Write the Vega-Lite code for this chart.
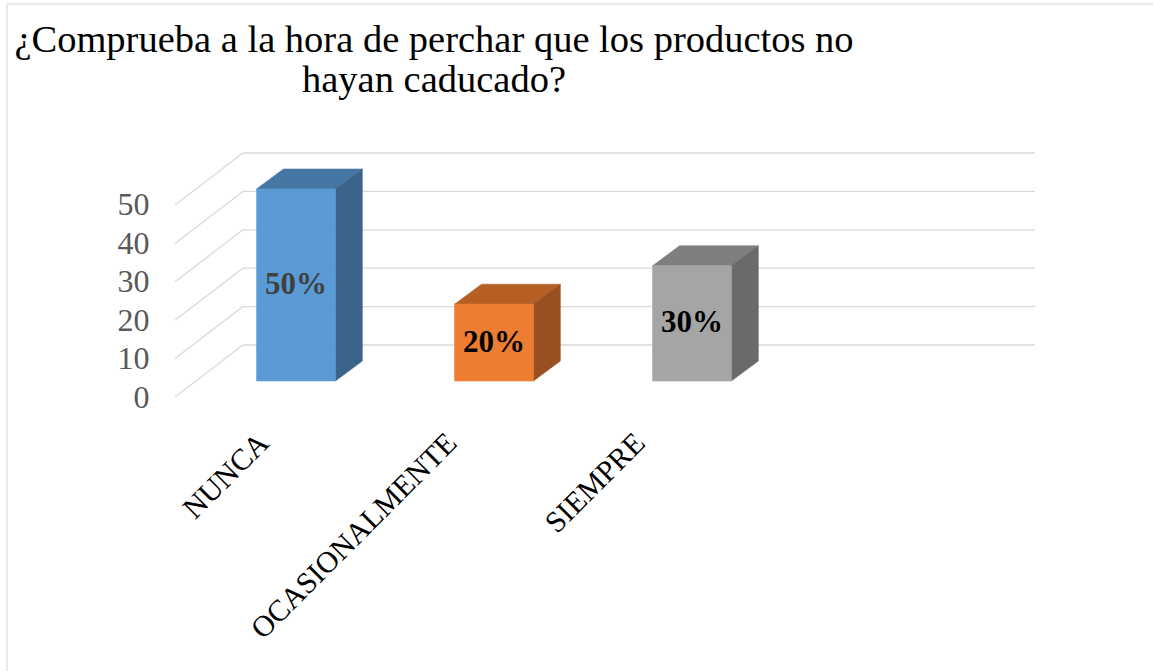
{
  "$schema": "https://vega.github.io/schema/vega-lite/v6.json",
  "width": 1146,
  "height": 667,
  "autosize": {"type": "none"},
  "padding": {"left": 7, "top": 4, "right": 0, "bottom": 0},
  "background": "white",
  "config": {
    "view": {"stroke": null},
    "font": "Liberation Serif",
    "title": {"font": "Liberation Serif, Times New Roman, serif", "fontWeight": "normal", "color": "#000000"},
    "style": {"group-title": {"font": "Liberation Serif, Times New Roman, serif"}}
  },
  "title": {
    "text": ["¿Comprueba a la hora de perchar que los productos no", "hayan caducado?"],
    "font": "Liberation Serif, Times New Roman, serif",
    "fontSize": 38.5,
    "fontWeight": "normal",
    "color": "#000000",
    "anchor": "middle",
    "frame": "group",
    "dx": -146,
    "offset": -97,
    "lineHeight": 40
  },
  "datasets": {
    "respuestas": [
      {"categoria": "NUNCA", "valor": 50},
      {"categoria": "OCASIONALMENTE", "valor": 20},
      {"categoria": "SIEMPRE", "valor": 30}
    ],
    "marcas": [{"v": 0}, {"v": 10}, {"v": 20}, {"v": 30}, {"v": 40}, {"v": 50}]
  },
  "layer": [
    {
      "data": {"name": "marcas"},
      "transform": [{"calculate": "datum.v + 13.54", "as": "vb"}],
      "mark": {"type": "rule", "color": "#d9d9d9", "strokeWidth": 1.3},
      "encoding": {
        "x": {"datum": 0, "type": "quantitative", "scale": {"domain": [-0.8485, 4.9394], "nice": false, "zero": false}, "axis": null},
        "x2": {"datum": 0.343},
        "y": {"field": "v", "type": "quantitative", "title": null,
              "scale": {"domain": [-71.35, 102.34], "nice": false, "zero": false},
              "axis": {"values": [0, 10, 20, 30, 40, 50], "domain": false, "ticks": false, "grid": false,
                       "offset": -168, "labelPadding": 26, "labelFont": "Liberation Serif", "labelFontSize": 32,
                       "labelColor": "#595959", "labelOverlap": false, "labelFlush": false}},
        "y2": {"field": "vb"}
      }
    },
    {
      "data": {"name": "marcas"},
      "transform": [{"calculate": "datum.v + 13.54", "as": "vb"}],
      "mark": {"type": "rule", "color": "#d9d9d9", "strokeWidth": 1.3},
      "encoding": {
        "x": {"datum": 0.343, "type": "quantitative", "axis": null},
        "x2": {"datum": 4.343},
        "y": {"field": "vb", "type": "quantitative", "title": null}
      }
    },
    {
      "data": {"name": "respuestas"},
      "transform": [
        {"window": [{"op": "row_number", "as": "n"}]},
        {"calculate": "datum.n - 1", "as": "i"},
        {"calculate": "datum.i + 0.412", "as": "a"},
        {"calculate": "datum.i + 0.81", "as": "b"},
        {"calculate": "datum.valor + 4.17", "as": "t"},
        {"calculate": "datum.categoria + '|techo'", "as": "clave"},
        {"calculate": "[0, 1, 2, 3]", "as": "k"},
        {"flatten": ["k"]},
        {"calculate": "datum.k == 0 ? datum.a : datum.k == 1 ? datum.a + 0.136 : datum.k == 2 ? datum.b : datum.b + 0.136", "as": "px"},
        {"calculate": "datum.k == 3 ? datum.t + 5.2 : datum.t", "as": "py"},
        {"calculate": "datum.k == 0 ? datum.t : datum.t + 5.2", "as": "py2"}
      ],
      "mark": {"type": "area", "orient": "vertical", "interpolate": "linear", "strokeWidth": 0.6},
      "encoding": {
        "x": {"field": "px", "type": "quantitative", "axis": null},
        "y": {"field": "py", "type": "quantitative", "stack": null, "title": null},
        "y2": {"field": "py2"},
        "detail": {"field": "categoria"},
        "color": {"field": "clave", "type": "nominal", "legend": null,
                  "scale": {"domain": ["NUNCA|frente", "NUNCA|techo", "NUNCA|lado", "OCASIONALMENTE|frente", "OCASIONALMENTE|techo", "OCASIONALMENTE|lado", "SIEMPRE|frente", "SIEMPRE|techo", "SIEMPRE|lado"],
                            "range": ["#5b9bd5", "#4677a4", "#3a6489", "#ed7d31", "#b65f24", "#994f1f", "#a5a5a5", "#7f7f7f", "#6a6a6a"]}},
        "stroke": {"field": "clave", "type": "nominal", "legend": null,
                  "scale": {"domain": ["NUNCA|frente", "NUNCA|techo", "NUNCA|lado", "OCASIONALMENTE|frente", "OCASIONALMENTE|techo", "OCASIONALMENTE|lado", "SIEMPRE|frente", "SIEMPRE|techo", "SIEMPRE|lado"],
                            "range": ["#5b9bd5", "#4677a4", "#3a6489", "#ed7d31", "#b65f24", "#994f1f", "#a5a5a5", "#7f7f7f", "#6a6a6a"]}}
      }
    },
    {
      "data": {"name": "respuestas"},
      "transform": [
        {"window": [{"op": "row_number", "as": "n"}]},
        {"calculate": "datum.n - 1", "as": "i"},
        {"calculate": "datum.i + 0.81", "as": "b"},
        {"calculate": "datum.valor + 4.17", "as": "t"},
        {"calculate": "datum.categoria + '|lado'", "as": "clave"},
        {"calculate": "[0, 1]", "as": "k"},
        {"flatten": ["k"]},
        {"calculate": "datum.k == 0 ? datum.b : datum.b + 0.136", "as": "px"},
        {"calculate": "datum.k == 0 ? 4.17 : 4.17 + 5.2", "as": "py"},
        {"calculate": "datum.k == 0 ? datum.t : datum.t + 5.2", "as": "py2"}
      ],
      "mark": {"type": "area", "orient": "vertical", "interpolate": "linear", "strokeWidth": 0.6},
      "encoding": {
        "x": {"field": "px", "type": "quantitative", "axis": null},
        "y": {"field": "py", "type": "quantitative", "stack": null, "title": null},
        "y2": {"field": "py2"},
        "detail": {"field": "categoria"},
        "color": {"field": "clave", "type": "nominal", "legend": null},
        "stroke": {"field": "clave", "type": "nominal", "legend": null}
      }
    },
    {
      "data": {"name": "respuestas"},
      "transform": [
        {"window": [{"op": "row_number", "as": "n"}]},
        {"calculate": "datum.n - 1", "as": "i"},
        {"calculate": "datum.i + 0.412", "as": "a"},
        {"calculate": "datum.i + 0.81", "as": "b"},
        {"calculate": "4.17", "as": "f"},
        {"calculate": "datum.valor + 4.17", "as": "t"},
        {"calculate": "datum.categoria + '|frente'", "as": "clave"}
      ],
      "mark": {"type": "rect", "strokeWidth": 0.6},
      "encoding": {
        "x": {"field": "a", "type": "quantitative", "axis": null},
        "x2": {"field": "b"},
        "y": {"field": "f", "type": "quantitative", "title": null},
        "y2": {"field": "t"},
        "color": {"field": "clave", "type": "nominal", "legend": null},
        "stroke": {"field": "clave", "type": "nominal", "legend": null}
      }
    },
    {
      "data": {"name": "respuestas"},
      "transform": [
        {"window": [{"op": "row_number", "as": "n"}]},
        {"calculate": "datum.n - 1", "as": "i"},
        {"calculate": "datum.i + 0.611", "as": "cx"},
        {"calculate": "4.17 + datum.valor / 2", "as": "cy"},
        {"calculate": "datum.valor + '%'", "as": "etiqueta"}
      ],
      "mark": {"type": "text", "font": "Liberation Serif", "fontSize": 31, "fontWeight": "bold", "align": "center", "baseline": "middle"},
      "encoding": {
        "x": {"field": "cx", "type": "quantitative", "axis": null},
        "y": {"field": "cy", "type": "quantitative", "title": null},
        "text": {"field": "etiqueta"},
        "color": {"condition": {"test": "datum.categoria === 'NUNCA'", "value": "#404040"}, "value": "#000000"}
      }
    },
    {
      "data": {"name": "respuestas"},
      "transform": [
        {"window": [{"op": "row_number", "as": "n"}]},
        {"calculate": "0.45 + 0.95 * (datum.n - 1)", "as": "lx"}
      ],
      "mark": {"type": "text", "font": "Liberation Serif", "fontSize": 30, "angle": -45, "align": "right", "baseline": "middle", "color": "#000000"},
      "encoding": {
        "x": {"field": "lx", "type": "quantitative", "axis": null},
        "y": {"datum": -10.8, "type": "quantitative", "title": null},
        "text": {"field": "categoria"}
      }
    },
    {
      "data": {"values": [{}]},
      "mark": {"type": "rule", "color": "#d9d9d9", "strokeWidth": 1.2},
      "encoding": {
        "x": {"datum": -0.8485, "type": "quantitative", "axis": null}
      }
    },
    {
      "data": {"values": [{}]},
      "mark": {"type": "rule", "color": "#d9d9d9", "strokeWidth": 1.2},
      "encoding": {
        "y": {"datum": 102.34, "type": "quantitative", "title": null}
      }
    }
  ]
}
